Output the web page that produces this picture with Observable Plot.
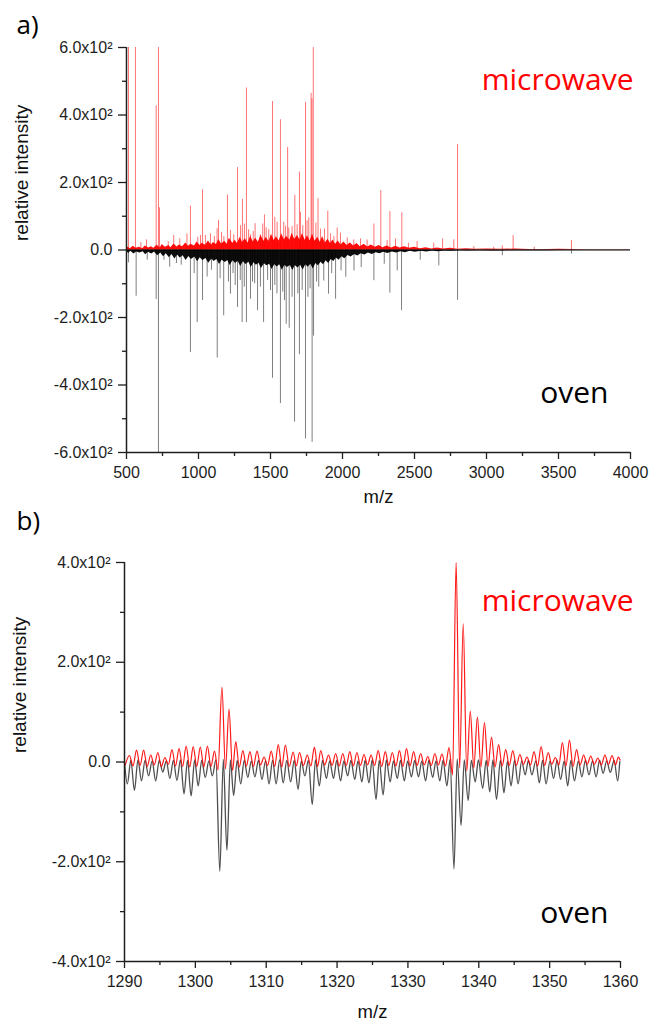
<!DOCTYPE html>
<html><head><meta charset="utf-8">
<script src="https://cdn.jsdelivr.net/npm/d3@7"></script>
<script src="https://cdn.jsdelivr.net/npm/@observablehq/plot@0.6"></script>
<style>
body{margin:0;background:#fff;}
#wrap{position:relative;width:650px;height:1021px;overflow:hidden;}
#wrap svg{position:absolute;left:0;}
</style></head><body><div id="wrap"></div>
<script>
// ---------- Panel a: full spectrum ----------
const xDomainA = [500, 4000];
const yDomainA = [-600, 600];
const xMajorA = [500, 1000, 1500, 2000, 2500, 3000, 3500, 4000];
const xMinorA = [750, 1250, 1750, 2250, 2750, 3250, 3750];
const yMajorA = [-600, -400, -200, 0, 200, 400, 600];
const yLabelsA = ["-6.0x10²", "-4.0x10²", "-2.0x10²", "0.0", "2.0x10²", "4.0x10²", "6.0x10²"];
const yMinorA = [-500, -300, -100, 100, 300, 500];

// dense low-level signal ("grass"), [m/z, intensity]
const microwaveGrassA = [[500,3],[512,9],[525,4],[548,11],[566,5],[590,8],[612,4],[630,12],[655,6],[672,10],[690,5],[712,14],[735,7],[748,16],[770,8],[795,13],[808,7],[830,18],[851,9],[866,15],[889,10],[912,21],[930,11],[948,17],[972,12],[990,24],[1011,13],[1026,20],[1050,14],[1068,27],[1090,15],[1104,22],[1125,16],[1141,31],[1160,18],[1183,26],[1199,17],[1214,35],[1238,20],[1255,29],[1270,19],[1290,38],[1306,22],[1324,33],[1345,21],[1362,41],[1380,24],[1397,35],[1416,23],[1433,44],[1455,26],[1470,37],[1490,25],[1507,47],[1526,28],[1541,39],[1560,27],[1578,48],[1596,30],[1612,41],[1634,29],[1650,50],[1668,31],[1687,43],[1705,30],[1722,49],[1740,29],[1757,42],[1775,27],[1792,47],[1810,26],[1828,38],[1846,23],[1862,40],[1880,21],[1899,32],[1917,19],[1934,30],[1952,17],[1970,27],[1990,15],[2010,24],[2032,13],[2055,21],[2078,12],[2100,19],[2124,10],[2150,17],[2175,9],[2200,15],[2228,8],[2255,13],[2280,7],[2310,12],[2340,6],[2370,11],[2400,6],[2430,10],[2465,5],[2500,8],[2540,4],[2580,7],[2620,3],[2660,6],[2700,3],[2750,5],[2800,2],[2860,4],[2920,2],[3000,3],[3100,2],[3200,3],[3350,1],[3500,2],[3700,1],[4000,1]];
const ovenGrassA = [[500,-3],[515,-10],[530,-4],[552,-12],[570,-6],[594,-9],[616,-5],[633,-14],[652,-7],[676,-12],[695,-6],[716,-17],[738,-9],[757,-20],[776,-11],[798,-23],[815,-13],[836,-27],[855,-15],[872,-24],[893,-17],[914,-31],[933,-19],[951,-28],[975,-21],[994,-35],[1012,-23],[1030,-31],[1052,-25],[1071,-39],[1093,-27],[1108,-34],[1128,-28],[1146,-43],[1164,-30],[1186,-37],[1204,-31],[1219,-46],[1240,-32],[1258,-40],[1275,-33],[1293,-49],[1311,-35],[1330,-43],[1350,-36],[1366,-52],[1385,-38],[1402,-45],[1420,-39],[1437,-55],[1458,-41],[1474,-47],[1494,-42],[1511,-58],[1530,-43],[1546,-50],[1564,-44],[1582,-60],[1600,-45],[1617,-52],[1638,-46],[1655,-61],[1672,-46],[1690,-53],[1709,-45],[1727,-59],[1745,-44],[1762,-51],[1780,-42],[1797,-56],[1815,-40],[1833,-47],[1851,-36],[1868,-44],[1886,-32],[1904,-40],[1922,-28],[1940,-34],[1958,-24],[1976,-30],[1996,-20],[2016,-26],[2038,-16],[2060,-21],[2084,-13],[2106,-18],[2130,-11],[2156,-15],[2180,-9],[2206,-13],[2234,-8],[2260,-11],[2286,-7],[2316,-10],[2346,-6],[2376,-9],[2406,-5],[2436,-8],[2470,-4],[2505,-7],[2545,-4],[2585,-6],[2625,-3],[2665,-5],[2710,-3],[2760,-4],[2810,-2],[2870,-3],[2950,-2],[3050,-3],[3200,-2],[3400,-2],[3700,-1],[4000,-1]];

// resolved peaks, [m/z, intensity] (values beyond 600 are off scale)
const microwavePeaksA = [[514,650],[562,650],[600,22],[639,30],[706,427],[722,650],[729,125],[790,25],[828,43],[870,33],[920,48],[944,130],[995,38],[1014,43],[1028,178],[1048,43],[1083,48],[1110,40],[1129,63],[1139,88],[1160,52],[1176,40],[1201,163],[1222,58],[1245,45],[1271,244],[1292,72],[1305,150],[1319,77],[1333,480],[1348,60],[1361,45],[1380,55],[1393,78],[1430,45],[1446,77],[1458,104],[1470,66],[1488,60],[1514,440],[1530,97],[1546,82],[1569,386],[1592,82],[1605,70],[1619,304],[1627,65],[1650,70],[1669,162],[1685,75],[1701,231],[1708,112],[1724,72],[1743,437],[1754,87],[1766,95],[1782,464],[1788,448],[1797,650],[1815,80],[1830,152],[1847,62],[1875,62],[1898,115],[1917,48],[1940,40],[1963,65],[1986,50],[2033,36],[2078,30],[2125,33],[2171,30],[2218,77],[2266,176],[2310,28],[2329,114],[2368,33],[2412,110],[2458,20],[2518,25],[2634,20],[2695,33],[2773,30],[2799,313],[2912,10],[3050,8],[3110,12],[3185,43],[3332,8],[3590,28]];
const ovenPeaksA = [[514,-38],[567,-137],[644,-30],[706,-147],[722,-650],[760,-30],[800,-51],[847,-40],[880,-45],[944,-304],[970,-70],[991,-215],[1028,-150],[1060,-80],[1090,-60],[1130,-320],[1150,-85],[1175,-195],[1208,-95],[1222,-131],[1240,-70],[1255,-105],[1271,-170],[1290,-90],[1303,-215],[1318,-110],[1333,-215],[1361,-146],[1375,-95],[1390,-100],[1410,-180],[1430,-110],[1452,-215],[1480,-90],[1500,-120],[1514,-380],[1530,-105],[1545,-130],[1569,-455],[1585,-125],[1597,-150],[1609,-220],[1630,-232],[1650,-140],[1667,-510],[1690,-130],[1701,-310],[1720,-120],[1743,-560],[1760,-140],[1775,-115],[1789,-570],[1799,-255],[1820,-95],[1835,-110],[1870,-92],[1903,-131],[1925,-70],[1952,-146],[1990,-62],[2023,-81],[2080,-62],[2130,-52],[2218,-91],[2290,-42],[2329,-128],[2380,-62],[2410,-180],[2540,-30],[2669,-47],[2799,-149],[3110,-17],[3590,-12]];

// ---------- Panel b: zoom 1290-1360 ----------
const xDomainB = [1290, 1360];
const yDomainB = [-400, 400];
const xMajorB = [1290, 1300, 1310, 1320, 1330, 1340, 1350, 1360];
const xMinorB = [1295, 1305, 1315, 1325, 1335, 1345, 1355];
const yMajorB = [-400, -200, 0, 200, 400];
const yLabelsB = ["-4.0x10²", "-2.0x10²", "0.0", "2.0x10²", "4.0x10²"];
const yMinorB = [-300, -100, 100, 300];

const microwaveApexB = [[1290.7,13],[1291.7,24],[1292.7,24],[1293.7,14],[1294.7,19],[1295.7,9],[1296.7,25],[1297.7,27],[1298.7,32],[1299.7,31],[1300.7,30],[1301.7,32],[1302.7,22],[1303.75,150],[1304.75,106],[1305.7,41],[1306.7,23],[1307.7,21],[1308.7,22],[1309.7,10],[1310.7,22],[1311.7,35],[1312.7,34],[1313.8,20],[1314.7,19],[1315.8,14],[1316.8,30],[1317.7,23],[1318.8,14],[1319.8,17],[1320.8,17],[1321.8,21],[1322.8,19],[1323.8,15],[1324.8,14],[1325.8,23],[1326.8,21],[1327.8,19],[1328.8,23],[1329.8,27],[1330.8,21],[1331.8,17],[1332.8,11],[1333.8,17],[1334.8,16],[1335.8,29],[1336.8,400],[1337.8,277],[1338.8,102],[1339.8,90],[1340.8,79],[1341.8,50],[1342.8,35],[1343.8,25],[1344.8,23],[1345.8,15],[1346.8,10],[1347.8,21],[1348.8,31],[1349.8,19],[1350.8,9],[1351.8,39],[1352.8,44],[1353.8,25],[1354.8,14],[1355.8,12],[1356.8,8],[1357.8,14],[1358.8,13],[1359.7,10]];
const microwaveValleyB = [[1290.1,-6],[1291.2,-8],[1292.2,-7],[1293.2,-9],[1294.2,-6],[1295.2,-9],[1296.2,-5],[1297.2,-8],[1298.2,-9],[1299.2,-10],[1300.2,-9],[1301.2,-10],[1302.2,-9],[1303.2,-16],[1304.25,-14],[1305.25,-17],[1306.2,-10],[1307.2,-8],[1308.2,-9],[1309.2,-6],[1310.2,-7],[1311.2,-9],[1312.2,-10],[1313.25,-9],[1314.25,-8],[1315.25,-7],[1316.3,-8],[1317.25,-9],[1318.25,-6],[1319.3,-7],[1320.3,-8],[1321.3,-7],[1322.3,-8],[1323.3,-7],[1324.3,-6],[1325.3,-7],[1326.3,-9],[1327.3,-7],[1328.3,-8],[1329.3,-9],[1330.3,-8],[1331.3,-7],[1332.3,-6],[1333.3,-7],[1334.3,-6],[1335.3,-8],[1336.3,-26],[1337.3,-12],[1338.3,-18],[1339.3,-12],[1340.3,-10],[1341.3,-9],[1342.3,-10],[1343.3,-8],[1344.3,-7],[1345.3,-7],[1346.3,-5],[1347.3,-6],[1348.3,-8],[1349.3,-7],[1350.3,-5],[1351.3,-6],[1352.3,-8],[1353.3,-9],[1354.3,-6],[1355.3,-5],[1356.3,-5],[1357.3,-6],[1358.3,-5],[1359.3,-6],[1359.95,4]];
const ovenTroughB = [[1290.4,-44],[1291.4,-57],[1292.4,-38],[1293.4,-28],[1294.4,-38],[1295.4,-20],[1296.4,-33],[1297.4,-37],[1298.4,-64],[1299.4,-68],[1300.4,-48],[1301.4,-31],[1302.4,-28],[1303.45,-219],[1304.45,-177],[1305.4,-67],[1306.4,-44],[1307.4,-31],[1308.4,-30],[1309.4,-35],[1310.4,-44],[1311.4,-44],[1312.4,-42],[1313.45,-40],[1314.5,-55],[1315.45,-28],[1316.5,-85],[1317.5,-48],[1318.5,-33],[1319.5,-33],[1320.5,-38],[1321.5,-28],[1322.5,-35],[1323.5,-40],[1324.5,-42],[1325.5,-75],[1326.5,-66],[1327.5,-40],[1328.5,-33],[1329.5,-38],[1330.5,-30],[1331.5,-30],[1332.5,-38],[1333.5,-31],[1334.5,-38],[1335.5,-48],[1336.5,-214],[1337.5,-127],[1338.5,-77],[1339.5,-40],[1340.55,-53],[1341.55,-60],[1342.5,-75],[1343.55,-62],[1344.55,-48],[1345.55,-44],[1346.55,-26],[1347.5,-26],[1348.55,-42],[1349.5,-44],[1350.55,-33],[1351.55,-35],[1352.55,-48],[1353.5,-38],[1354.55,-30],[1355.55,-26],[1356.55,-30],[1357.55,-23],[1358.55,-21],[1359.6,-38]];
const ovenCrestB = [[1290.0,0],[1290.9,3],[1291.9,4],[1292.9,3],[1293.9,2],[1294.9,3],[1295.9,2],[1296.9,3],[1297.9,4],[1298.9,3],[1299.9,4],[1300.9,3],[1301.9,2],[1302.9,4],[1303.95,5],[1304.95,4],[1305.9,3],[1306.9,3],[1307.9,2],[1308.9,3],[1309.9,2],[1310.9,3],[1311.9,4],[1312.9,3],[1313.95,3],[1314.95,2],[1315.95,3],[1316.95,4],[1317.95,3],[1318.95,2],[1319.95,3],[1320.95,2],[1321.95,3],[1322.95,2],[1323.95,3],[1324.95,4],[1325.95,3],[1326.95,4],[1327.95,2],[1328.95,3],[1329.95,2],[1330.95,3],[1331.95,2],[1332.95,3],[1333.95,2],[1334.95,3],[1335.95,5],[1336.95,6],[1337.95,4],[1338.95,3],[1339.95,4],[1341.05,3],[1342.0,4],[1343.05,3],[1344.05,2],[1345.05,3],[1346.05,2],[1347.0,3],[1348.05,2],[1349.0,3],[1350.05,2],[1351.05,3],[1352.05,2],[1353.0,3],[1354.05,2],[1355.05,3],[1356.05,2],[1357.05,3],[1358.05,2],[1359.1,3],[1359.9,1]];

const seriesNames = ["microwave", "oven"];
const panelNames = ["a)", "b)"];
const axisTitles = ["m/z", "relative intensity"];

const RED = "#ff0000";
const AXC = "#1e1e1e";
const SANS = "'Liberation Sans', Arial, sans-serif";
const CAL = "'Open Sans', 'Noto Sans', sans-serif";

function frameAxes(xd, yd, xMaj, xMin, yMaj, yLab, yMin) {
  return [
    Plot.axisX({ticks: xMin, tickSize: 4, tickFormat: () => "", stroke: AXC, strokeWidth: 1.3, label: null}),
    Plot.axisX({ticks: xMaj, tickSize: 7, tickPadding: 7, tickFormat: d => String(d), stroke: AXC, strokeWidth: 1.3, label: null}),
    Plot.axisY({ticks: yMin, tickSize: 4, tickFormat: () => "", stroke: AXC, strokeWidth: 1.3, label: null}),
    Plot.axisY({ticks: yMaj, tickSize: 8, tickPadding: 6, tickFormat: d => yLab[yMaj.indexOf(d)], stroke: AXC, strokeWidth: 1.3, label: null}),
    Plot.ruleX([xd[0]], {stroke: AXC, strokeWidth: 1.5}),
    Plot.ruleY([yd[0]], {stroke: AXC, strokeWidth: 1.5})
  ];
}

function labels(o) {
  return [
    Plot.text([seriesNames[0]], {text: d => d, frameAnchor: "top-right", textAnchor: "end", lineAnchor: "bottom", dx: o.mdx, dy: o.mdy, fill: RED, fontSize: 30, fontFamily: CAL}),
    Plot.text([seriesNames[1]], {text: d => d, frameAnchor: "bottom-right", textAnchor: "end", lineAnchor: "bottom", dx: o.odx, dy: o.ody, fill: "#000", fontSize: 30, fontFamily: CAL}),
    Plot.text([panelNames[o.p]], {text: d => d, frameAnchor: "top-left", textAnchor: "start", lineAnchor: "bottom", dx: o.pdx, dy: o.pdy, fill: "#000", fontSize: 26, fontFamily: CAL}),
    Plot.text([axisTitles[0]], {text: d => d, frameAnchor: "bottom", lineAnchor: "middle", dy: o.xdy, fill: "#111", fontSize: 18.5, fontFamily: SANS}),
    Plot.text([axisTitles[1]], {text: d => d, frameAnchor: "left", rotate: -90, lineAnchor: "middle", dx: o.ydx, dy: -9, fill: "#111", fontSize: 19, fontFamily: SANS})
  ];
}

const style = {fontFamily: SANS, fontSize: "16px", color: AXC, background: "transparent", overflow: "visible"};

const chartA = Plot.plot({
  width: 650, height: 510,
  marginLeft: 126, marginRight: 20, marginTop: 47, marginBottom: 58,
  style,
  x: {domain: xDomainA, nice: false},
  y: {domain: yDomainA, nice: false},
  marks: [
    Plot.areaY(ovenGrassA, {x: d => d[0], y: d => d[1], fill: "#000", fillOpacity: 0.95}),
    Plot.ruleX(ovenPeaksA, {x: d => d[0], y1: 0, y2: d => d[1], stroke: "#000", strokeOpacity: 0.5, strokeWidth: 1, clip: true}),
    Plot.areaY(microwaveGrassA, {x: d => d[0], y: d => d[1], fill: RED, fillOpacity: 0.95}),
    Plot.ruleX(microwavePeaksA, {x: d => d[0], y1: 0, y2: d => d[1], stroke: RED, strokeOpacity: 0.55, strokeWidth: 1, clip: true}),
    Plot.ruleY([0], {stroke: "#000", strokeWidth: 1.2}),
    ...frameAxes(xDomainA, yDomainA, xMajorA, xMinorA, yMajorA, yLabelsA, yMinorA),
    ...labels({p: 0, mdx: 3, mdy: 42, odx: -22, ody: -50, pdx: -110, pdy: -14, xdy: 45, ydx: -104.5})
  ]
});

const redTraceB = microwaveApexB.concat(microwaveValleyB).sort((a, b) => a[0] - b[0]);
const blackTraceB = ovenTroughB.concat(ovenCrestB).sort((a, b) => a[0] - b[0]);

const chartB = Plot.plot({
  width: 650, height: 511,
  marginLeft: 124, marginRight: 30, marginTop: 52, marginBottom: 60,
  style,
  x: {domain: xDomainB, nice: false},
  y: {domain: yDomainB, nice: false},
  marks: [
    Plot.line(blackTraceB, {x: d => d[0], y: d => d[1], stroke: "#222", strokeOpacity: 0.8, strokeWidth: 1.3, curve: "monotone-x"}),
    Plot.line(redTraceB, {x: d => d[0], y: d => d[1], stroke: RED, strokeOpacity: 0.9, strokeWidth: 1.2, curve: "monotone-x"}),
    ...frameAxes(xDomainB, yDomainB, xMajorB, xMinorB, yMajorB, yLabelsB, yMinorB),
    ...labels({p: 1, mdx: 13, mdy: 48, odx: -12, ody: -39, pdx: -108, pdy: -33, xdy: 51, ydx: -105})
  ]
});

const wrap = document.getElementById("wrap");
chartA.style.top = "0px";
chartB.style.top = "510px";
wrap.appendChild(chartA);
wrap.appendChild(chartB);
</script></body></html>
